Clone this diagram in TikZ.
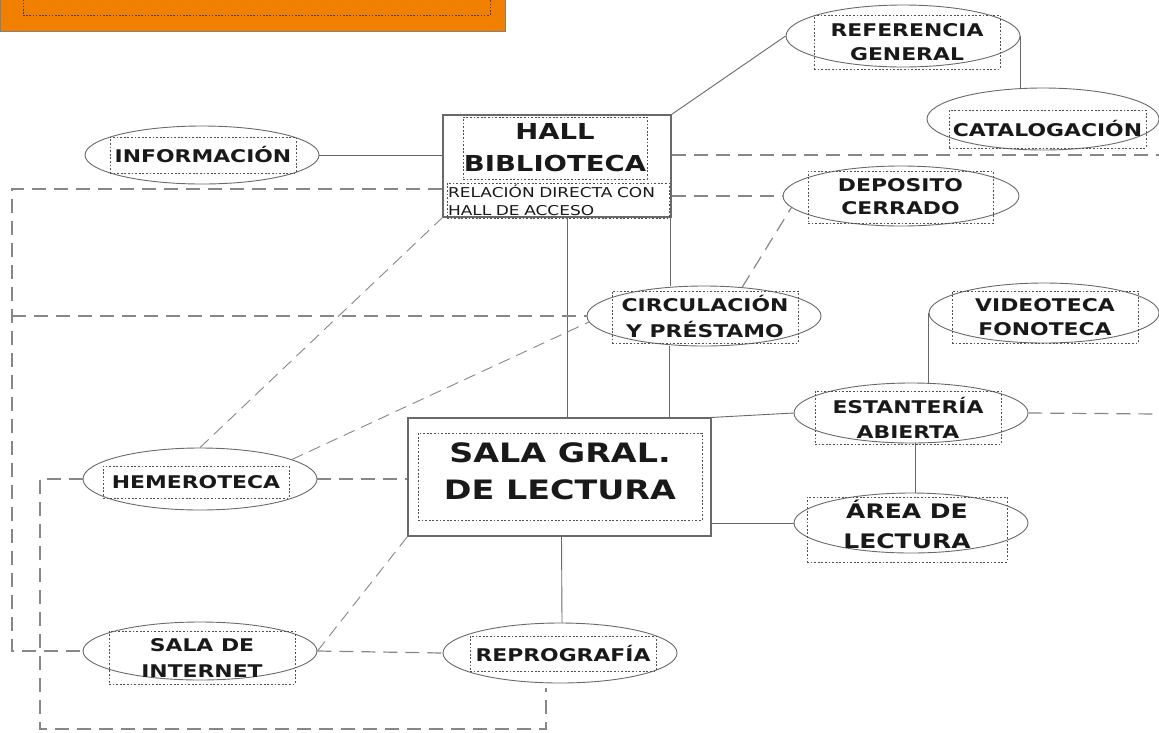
\documentclass[tikz,border=0pt]{standalone}
\usepackage{fontspec}
\usetikzlibrary{shapes.geometric}
\newfontfamily\wf[FakeStretch=1.25]{DejaVu Sans Bold}
\newfontfamily\wfl[FakeStretch=1.25]{DejaVu Sans}
\definecolor{bannerorange}{RGB}{242,128,0}
\definecolor{linegray}{RGB}{105,105,105}
\definecolor{dashgray}{RGB}{135,135,135}
\definecolor{dotgray}{RGB}{80,80,80}
\definecolor{txt}{RGB}{25,25,25}
\tikzset{
  oval/.style={ellipse, draw=linegray, line width=0.9pt, inner sep=0pt},
  dotbox/.style={draw=dotgray, line width=0.9pt, dash pattern=on 1.8pt off 1.8pt, inner sep=0pt, align=center, text=txt},
  etext/.style={font={\wf\fontsize{17.5}{24}\selectfont}},
  plaintext/.style={inner sep=0pt, align=center, text=txt},
  mainbox/.style={draw=linegray, line width=1.1pt, inner sep=0pt},
  link/.style={draw=linegray, line width=0.9pt},
  dlink/.style={draw=dashgray, line width=1.2pt, dash pattern=on 14pt off 8pt},
  dlinkthin/.style={draw=dashgray, line width=0.9pt, dash pattern=on 12pt off 7pt},
}
\begin{document}
\begin{tikzpicture}[x=1pt,y=-1pt]
\useasboundingbox (0,0) rectangle (1159,732);
\fill[white] (0,0) rectangle (1159,732);

% banner
\node[draw=gray, fill=bannerorange, line width=1pt, minimum width=505pt, minimum height=40pt, inner sep=0pt] (banner) at (252.5,11) {};
\node[draw=dotgray!80!black, line width=0.8pt, dash pattern=on 1.6pt off 1.6pt, minimum width=467pt, minimum height=24pt, inner sep=0pt] (bannerin) at (256.5,3) {};

% main boxes
\node[mainbox, minimum width=228pt, minimum height=102pt] (hall) at (557,166) {};
\node[dotbox, minimum width=184pt, minimum height=62pt, font={\wf\fontsize{22}{32}\selectfont}] (hallT) at (555,148) {HALL\\BIBLIOTECA};
\node[dotbox, minimum width=222pt, minimum height=35pt, text width=220pt, align=left, font={\wfl\fontsize{13.6}{18}\selectfont}] (hallS) at (558,200.5) {RELACIÓN DIRECTA CON\\HALL DE ACCESO};

\node[mainbox, minimum width=303pt, minimum height=118pt] (sala) at (559.5,477) {};
\node[dotbox, minimum width=284pt, minimum height=87pt] (salaT) at (560,476.5) {};
\node[plaintext, font={\wf\fontsize{26.7}{37}\selectfont}] (salaL) at (560,471) {SALA GRAL.\\DE LECTURA};

% ellipses
\node[oval, minimum width=234pt, minimum height=62pt] (ref) at (903,36) {};
\node[dotbox, etext, minimum width=186pt, minimum height=54pt] (refT) at (907,42) {REFERENCIA\\GENERAL};

\node[oval, minimum width=232pt, minimum height=62pt] (cat) at (1043,119) {};
\node[dotbox, etext, minimum width=197pt, minimum height=38pt] (catT) at (1047.5,129) {CATALOGACIÓN};

\node[oval, minimum width=234pt, minimum height=58pt] (info) at (202,155) {};
\node[dotbox, etext, minimum width=186pt, minimum height=36pt] (infoT) at (203,155) {INFORMACIÓN};

\node[oval, minimum width=236pt, minimum height=60pt] (dep) at (901,196) {};
\node[dotbox, etext, minimum width=185pt, minimum height=52pt, font={\wf\fontsize{17.5}{23}\selectfont}] (depT) at (900.5,197) {DEPOSITO\\CERRADO};

\node[oval, minimum width=234pt, minimum height=60pt] (circ) at (704,316) {};
\node[dotbox, etext, minimum width=186pt, minimum height=52pt, font={\wf\fontsize{17.5}{26}\selectfont}] (circT) at (705,317) {CIRCULACIÓN\\Y PRÉSTAMO};

\node[oval, minimum width=230pt, minimum height=60pt] (video) at (1044,313) {};
\node[dotbox, etext, minimum width=186pt, minimum height=52pt] (videoT) at (1045,317) {VIDEOTECA\\FONOTECA};

\node[oval, minimum width=234pt, minimum height=60pt] (est) at (911,413) {};
\node[dotbox, etext, minimum width=186pt, minimum height=53pt, font={\wf\fontsize{17.5}{25}\selectfont}] (estT) at (908,417.5) {ESTANTERÍA\\ABIERTA};

\node[oval, minimum width=234pt, minimum height=60pt] (area) at (911,523) {};
\node[dotbox, minimum width=200pt, minimum height=65pt] (areaT) at (907,529.5) {};
\node[plaintext, font={\wf\fontsize{20}{30}\selectfont}] (areaL) at (907,524) {ÁREA DE\\LECTURA};

\node[oval, minimum width=234pt, minimum height=62pt] (hem) at (200,479) {};
\node[dotbox, etext, minimum width=186pt, minimum height=32pt] (hemT) at (196,482) {HEMEROTECA};

\node[oval, minimum width=234pt, minimum height=58pt] (inet) at (200,651) {};
\node[dotbox, etext, minimum width=186pt, minimum height=53pt, font={\wf\fontsize{17.5}{26}\selectfont}] (inetT) at (202,657.5) {SALA DE\\INTERNET};

\node[oval, minimum width=234pt, minimum height=60pt] (repro) at (560,653) {};
\node[dotbox, etext, minimum width=186pt, minimum height=35pt] (reproT) at (563,653.5) {REPROGRAFÍA};

% helper coordinates
\coordinate (edgeA) at (1159,155);
\coordinate (edgeB) at (1159,414);
\coordinate (lt) at (12,189);
\coordinate (lb) at (12,651);
\coordinate (lb2) at (40,729);
\coordinate (rb) at (546,729);
\coordinate (rt) at (546,688);

% solid connectors
\draw[link] (hall.north east) -- (ref.west);
\draw[link] (ref.east) -- (ref.east |- cat.north);
\draw[link] (info.east) -- (info.east -| hall.west);
\draw[link] ([xshift=10pt]hall.south) -- ([xshift=10pt]hall.south |- sala.north);
\draw[link] ([xshift=-1pt]hall.south east) -- ([xshift=-1pt]hall.south east |- circ.north);
\draw[link] ([xshift=-2pt]hall.south east |- circ.south) -- ([xshift=-2pt]hall.south east |- sala.north);
\draw[link] (sala.north east) -- (est.west);
\draw[link] (sala.east |- area.west) -- (area.west);
\draw[link] ([xshift=4pt]est.south) -- ([xshift=4pt]area.north);
\draw[link] (video.west) -- (video.west |- est.north);
\draw[link] ([xshift=2pt]sala.south) -- ([xshift=2pt]repro.north);

% dashed connectors
\draw[dlink] (hall.east |- edgeA) -- (edgeA);
\draw[dlink] (hall.east |- dep.west) -- (dep.west);
\draw[dlink] (circ.37) -- (dep.186);
\draw[dlink] (lt -| hall.west) -- (lt) -- (lb) -- (inet.west);
\draw[dlink] (lt |- circ.west) -- (circ.west);
\draw[dlinkthin] (hem.north) -- (hall.south west);
\draw[dlinkthin] (hem.12) -- (circ.183);
\draw[dlink] (hem.east) -- (hem.east -| sala.west);
\draw[dlink] (hem.west) -- (hem.west -| lb2) -- (lb2) -- (rb) -- (rt);
\draw[dlinkthin] (inet.east) -- (sala.south west);
\draw[dlink] (inet.east) -- (repro.west);
\draw[dlink] (est.east) -- (edgeB);
\end{tikzpicture}
\end{document}
